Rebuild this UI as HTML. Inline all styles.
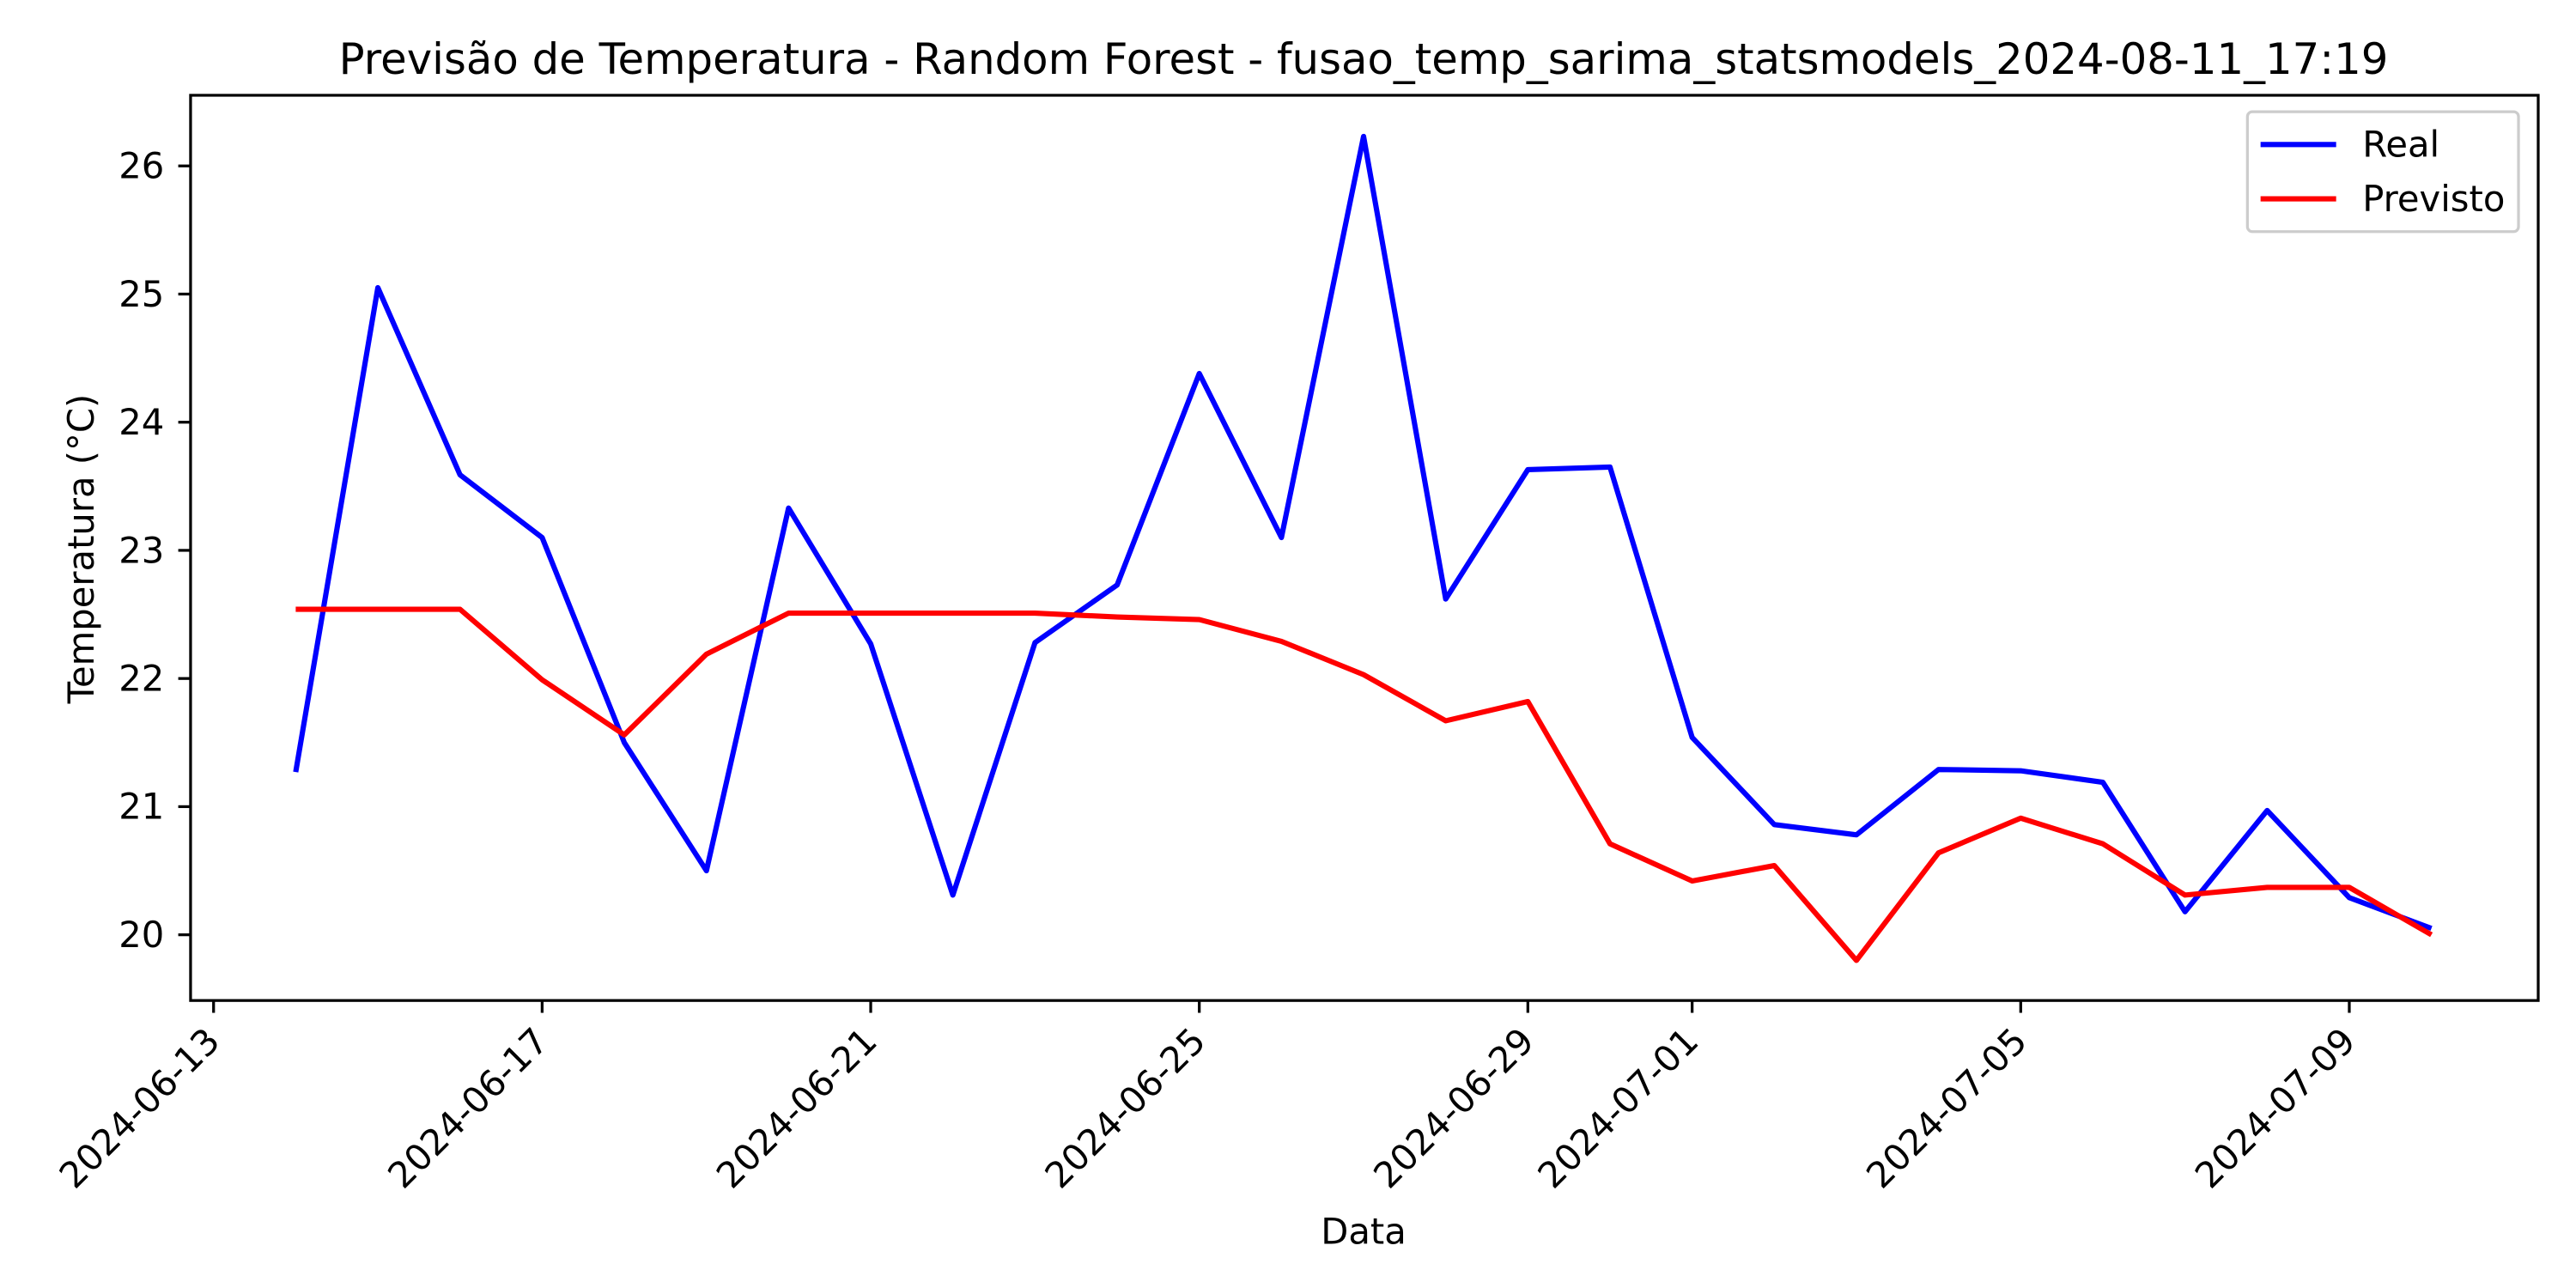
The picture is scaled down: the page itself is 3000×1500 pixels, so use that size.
<!DOCTYPE html>
<html><head><meta charset="utf-8"><style>
html,body{margin:0;padding:0;background:#fff}
svg{display:block;font-family:"DejaVu Sans","Liberation Sans",sans-serif}
</style></head><body>
<svg id="chart" width="3000" height="1500" viewBox="0 0 1568 784" xmlns="http://www.w3.org/2000/svg">
<rect width="1568" height="784" fill="#fff"/>
<text x="830" y="45" text-anchor="middle" font-size="26">Previsão de Temperatura - Random Forest - fusao_temp_sarima_statsmodels_2024-08-11_17:19</text>
<g id="grid"></g>
<g id="series"></g>
<rect x="116" y="58" width="1429" height="551" fill="none" stroke="#000" stroke-width="1.7"/>
<text x="830" y="757" text-anchor="middle" font-size="21.8">Data</text>
<text transform="translate(57,334) rotate(-90)" text-anchor="middle" font-size="21.8">Temperatura (°C)</text>
<g>
<rect x="1368" y="68" width="165" height="73" rx="3" fill="#fff" stroke="#ccc" stroke-width="1.7"/>
<line x1="1376" y1="88" x2="1422" y2="88" stroke="#0000ff" stroke-width="3.2"/>
<text x="1438" y="95.5" font-size="21.8">Real</text>
<line x1="1376" y1="121" x2="1422" y2="121" stroke="#ff0000" stroke-width="3.2"/>
<text x="1438" y="128.5" font-size="21.8">Previsto</text>
</g>
</svg>
<script>
const realValues=[21.27,25.05,23.59,23.10,21.50,20.50,23.33,22.27,20.31,22.28,22.73,24.38,23.10,26.23,22.62,23.63,23.65,21.54,20.86,20.78,21.29,21.28,21.19,20.18,20.97,20.29,20.05];
const predValues=[22.54,22.54,22.54,21.99,21.56,22.19,22.51,22.51,22.51,22.51,22.48,22.46,22.29,22.03,21.67,21.82,20.71,20.42,20.54,19.80,20.64,20.91,20.71,20.31,20.37,20.37,20.00];
const startDay=1;
const xTickLabels=["2024-06-13","2024-06-17","2024-06-21","2024-06-25","2024-06-29","2024-07-01","2024-07-05","2024-07-09"];
const xTickDays=[0,4,8,12,16,18,22,26];
const yTicks=[20,21,22,23,24,25,26];
const NS="http://www.w3.org/2000/svg";
function xs(d){return 130+d*50;}
function ys(v){return 569-(v-20)*78;}
const grid=document.getElementById('grid'),ser=document.getElementById('series');
function mk(tag,attrs,parent,txt){const e=document.createElementNS(NS,tag);for(const k in attrs)e.setAttribute(k,attrs[k]);if(txt!==undefined)e.textContent=txt;parent.appendChild(e);return e;}
xTickDays.forEach((d,i)=>{
  const x=xs(d);
  const t=mk('line',{x1:x,y1:609,x2:x,y2:616.5,stroke:'#000','stroke-width':1.7},grid);
  
  
  const ax=x+5,ay=635;
  const l=mk('text',{x:ax,y:ay,'font-size':21.8,'text-anchor':'end',transform:`rotate(-45 ${ax} ${ay})`},grid,xTickLabels[i]);
  
  
});
yTicks.forEach(v=>{
  const y=ys(v);
  const t=mk('line',{x1:108.5,y1:y,x2:116,y2:y,stroke:'#000','stroke-width':1.7},grid);
  
  
  const l=mk('text',{x:100,y:y+7.5,'font-size':21.8,'text-anchor':'end'},grid,String(v));
  
  
});
function line(vals,color,name){
  const pts=vals.map((v,i)=>xs(startDay+i)+','+ys(v)).join(' ');
  const p=mk('polyline',{points:pts,fill:'none',stroke:color,'stroke-width':3.2,'stroke-linejoin':'round'},ser);
  
  
}
line(realValues,'#0000ff','real-line');
line(predValues,'#ff0000','previsto-line');
</script>
</body></html>
